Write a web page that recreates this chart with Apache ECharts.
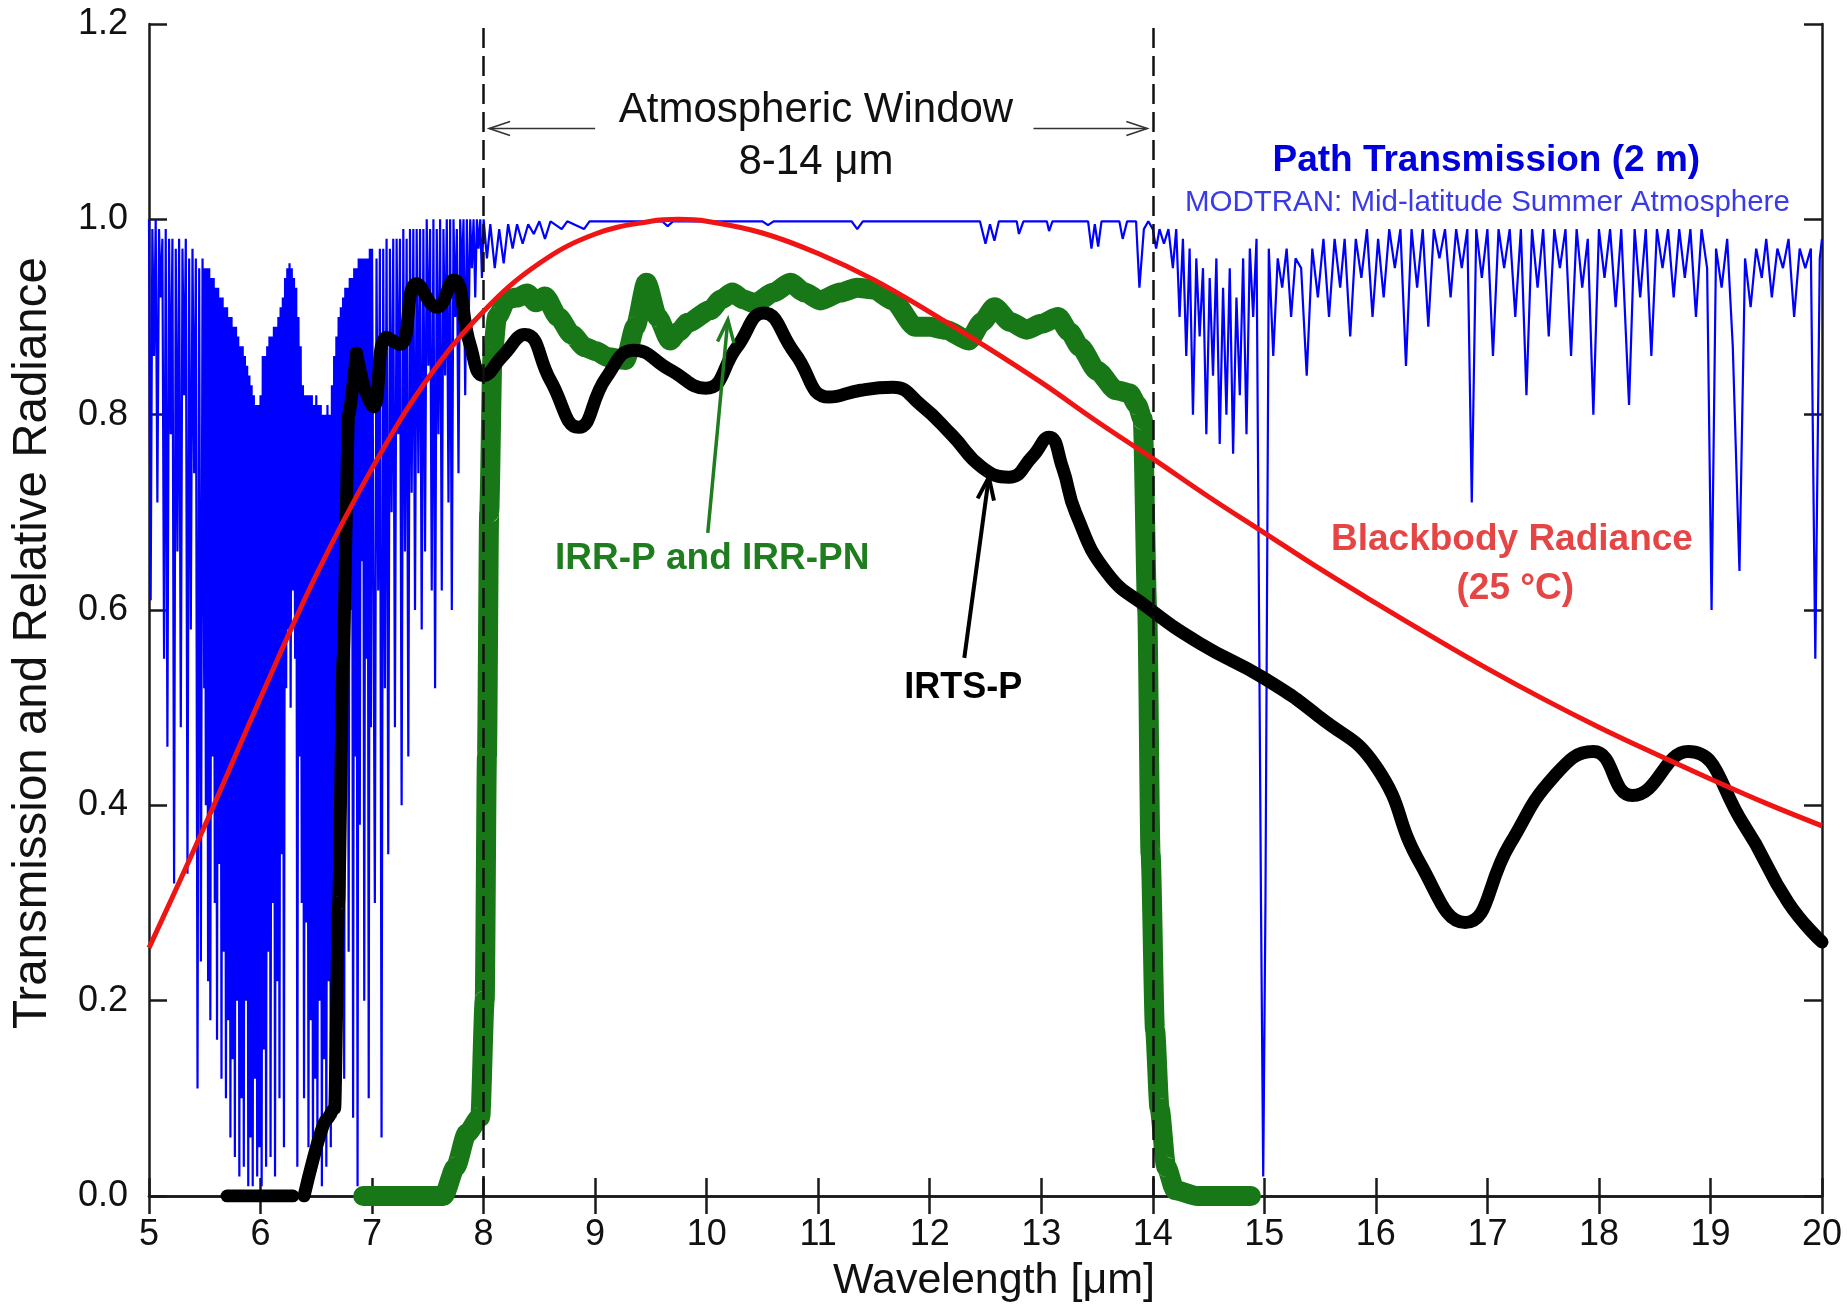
<!DOCTYPE html>
<html><head><meta charset="utf-8">
<script src="https://cdn.jsdelivr.net/npm/echarts/dist/echarts.min.js"></script>
<style>html,body{margin:0;padding:0;background:#fff}#c{width:1847px;height:1313px}</style>
</head><body><div id="c"></div>
<script>
// ---------------- data ----------------
const xTickValues = [5,6,7,8,9,10,11,12,13,14,15,16,17,18,19,20];
const yTickValues = [0.0,0.2,0.4,0.6,0.8,1.0,1.2];
const windowEdges = [8, 14];

const blackbodyRadiance = [
 [5.0,0.254],[5.5,0.379],[6.0,0.510],[6.5,0.636],[7.0,0.745],[7.5,0.837],[8.0,0.906],[8.5,0.955],
 [9.0,0.985],[9.5,0.998],[9.75,1.0],[10.0,0.998],[10.5,0.986],[11.0,0.965],[11.5,0.938],[12.0,0.905],
 [12.5,0.870],[13.0,0.833],[13.5,0.793],[14.0,0.755],[14.5,0.716],[15.0,0.679],[15.5,0.642],[16.0,0.607],
 [16.5,0.573],[17.0,0.540],[17.5,0.509],[18.0,0.480],[18.5,0.453],[19.0,0.427],[19.5,0.402],[20.0,0.379]
];

const irtsFlat = [[5.70,0.0],[6.0,0.0],[6.29,0.0]];
const irtsRise = [[6.39,0.0],[6.59,0.078],[6.665,0.09],[6.70,0.30],[6.74,0.55],[6.79,0.80],[6.86,0.863]];
const irtsMain = [
 [6.86,0.863],[7.01,0.808],[7.13,0.879],[7.25,0.872],[7.40,0.934],[7.58,0.910],[7.73,0.938],[7.88,0.871],
 [8.0,0.840],[8.17,0.860],[8.37,0.882],[8.60,0.835],[8.85,0.787],[9.10,0.838],[9.35,0.866],[9.67,0.846],
 [9.99,0.827],[10.27,0.869],[10.51,0.904],[10.79,0.863],[11.10,0.818],[11.38,0.825],[11.67,0.828],[11.92,0.810],
 [12.20,0.779],[12.47,0.746],[12.71,0.736],[12.92,0.757],[13.07,0.777],[13.19,0.746],[13.31,0.699],[13.59,0.638],
 [13.95,0.603],[14.42,0.566],[15.0,0.530],[15.5,0.490],[16.0,0.440],[16.4,0.340],[16.8,0.280],[17.2,0.360],
 [17.6,0.430],[17.95,0.455],[18.3,0.410],[18.8,0.455],[19.3,0.380],[19.7,0.300],[20.0,0.260]
];

const irrP = [
 [6.92,0.0],[7.3,0.0],[7.64,0.0],[7.75,0.03],[7.85,0.064],[7.97,0.081],[8.01,0.2],[8.03,0.45],
 [8.05,0.70],[8.08,0.86],[8.12,0.90],[8.21,0.918],[8.30,0.92],[8.39,0.924],[8.47,0.915],[8.55,0.921],
 [8.67,0.90],[8.79,0.882],[8.91,0.869],[9.01,0.865],[9.11,0.859],[9.27,0.856],[9.36,0.89],[9.46,0.935],
 [9.56,0.90],[9.67,0.876],[9.75,0.885],[9.83,0.894],[10.03,0.907],[10.13,0.918],[10.23,0.925],[10.33,0.918],
 [10.43,0.914],[10.6,0.925],[10.75,0.935],[10.88,0.925],[11.02,0.917],[11.2,0.925],[11.35,0.93],[11.5,0.928],
 [11.67,0.917],[11.87,0.89],[12.0,0.89],[12.14,0.887],[12.35,0.876],[12.47,0.895],[12.58,0.91],[12.72,0.895],
 [12.87,0.887],[13.0,0.893],[13.15,0.90],[13.25,0.885],[13.35,0.869],[13.5,0.845],[13.67,0.825],[13.79,0.822],
 [13.86,0.81],[13.91,0.795],[13.95,0.60],[13.98,0.35],[14.02,0.17],[14.06,0.09],[14.12,0.03],[14.2,0.006],
 [14.4,0.0],[14.88,0.0]
];

const pathTransmission = [
 [5.000,1.0],[5.015,0.61],[5.030,0.99],[5.045,0.86],[5.060,1.0],[5.075,0.71],[5.090,0.99],[5.105,0.92],[5.120,0.98],[5.135,0.55],
 [5.150,0.99],[5.165,0.46],[5.180,0.98],[5.195,0.78],[5.210,0.98],[5.225,0.32],[5.240,0.97],[5.255,0.66],[5.270,0.98],[5.285,0.48],
 [5.300,0.97],[5.315,0.82],[5.330,0.98],[5.345,0.33],[5.360,0.96],[5.375,0.58],[5.390,0.97],[5.405,0.74],[5.420,0.96],[5.435,0.11],
 [5.450,0.95],[5.465,0.24],[5.480,0.96],[5.495,0.52],
 [5.50,0.95],[5.51,0.40],[5.52,0.95],[5.53,0.22],[5.54,0.95],[5.55,0.18],[5.56,0.94],[5.57,0.45],[5.58,0.94],[5.59,0.30],
 [5.60,0.93],[5.61,0.16],[5.62,0.93],[5.63,0.34],[5.64,0.92],[5.65,0.12],[5.66,0.92],[5.67,0.25],[5.68,0.91],[5.69,0.10],
 [5.70,0.91],[5.71,0.18],[5.72,0.90],[5.73,0.06],[5.74,0.90],[5.75,0.14],[5.76,0.89],[5.77,0.04],[5.78,0.89],[5.79,0.20],
 [5.80,0.88],[5.81,0.02],[5.82,0.87],[5.83,0.10],[5.84,0.87],[5.85,0.03],[5.86,0.86],[5.87,0.20],[5.88,0.85],[5.89,0.01],
 [5.90,0.84],[5.91,0.06],[5.92,0.83],[5.93,0.01],[5.94,0.82],[5.95,0.12],[5.96,0.81],[5.97,0.02],[5.98,0.81],[5.99,0.05],
 [6.00,0.82],[6.01,0.01],[6.02,0.86],[6.03,0.15],[6.04,0.86],[6.05,0.03],[6.06,0.87],[6.07,0.25],[6.08,0.88],[6.09,0.04],
 [6.10,0.88],[6.11,0.30],[6.12,0.89],[6.13,0.02],[6.14,0.89],[6.15,0.22],[6.16,0.90],[6.17,0.10],[6.18,0.91],[6.19,0.35],
 [6.20,0.92],[6.21,0.05],[6.22,0.94],[6.23,0.52],[6.24,0.95],[6.25,0.58],[6.26,0.955],[6.27,0.50],[6.28,0.95],[6.29,0.62],
 [6.30,0.94],[6.31,0.55],[6.32,0.93],[6.33,0.03],[6.34,0.90],[6.35,0.45],[6.36,0.87],[6.37,0.30],[6.38,0.83],[6.39,0.10],
 [6.40,0.82],[6.41,0.28],[6.42,0.82],[6.43,0.05],[6.44,0.82],[6.45,0.18],[6.46,0.82],[6.47,0.02],[6.48,0.81],[6.49,0.12],
 [6.50,0.82],[6.51,0.04],[6.52,0.81],[6.53,0.20],[6.54,0.81],[6.55,0.01],[6.56,0.80],[6.57,0.14],[6.58,0.80],[6.59,0.03],
 [6.60,0.81],[6.61,0.22],[6.62,0.80],[6.63,0.05],[6.64,0.83],[6.65,0.30],[6.66,0.86],[6.67,0.08],[6.68,0.88],[6.69,0.40],
 [6.70,0.90],[6.71,0.15],[6.72,0.91],[6.73,0.48],[6.74,0.92],[6.75,0.12],[6.76,0.93],[6.77,0.55],[6.78,0.93],[6.79,0.25],
 [6.80,0.94],[6.81,0.60],[6.82,0.94],[6.83,0.08],[6.84,0.95],[6.85,0.45],[6.86,0.95],[6.87,0.01],[6.88,0.96],[6.89,0.38],
 [6.90,0.96],[6.91,0.65],[6.92,0.96],[6.93,0.20],[6.94,0.96],[6.95,0.55],[6.96,0.96],[6.97,0.10],[6.98,0.97],[6.99,0.48],
 [7.00,0.97],[7.025,0.30],[7.040,0.96],[7.055,0.62],[7.070,0.97],[7.085,0.06],
 [7.100,0.97],[7.115,0.52],[7.130,0.98],[7.145,0.35],[7.160,0.97],[7.175,0.70],[7.190,0.98],[7.205,0.48],[7.220,0.98],[7.235,0.78],
 [7.250,0.98],[7.265,0.40],[7.280,0.99],[7.295,0.66],[7.310,0.98],[7.325,0.45],[7.340,0.99],[7.355,0.72],[7.370,0.99],[7.385,0.60],
 [7.400,0.99],[7.415,0.74],[7.430,0.99],[7.445,0.58],[7.460,0.99],[7.475,0.66],[7.490,1.0],[7.505,0.85],[7.520,0.99],[7.535,0.62],
 [7.550,1.0],[7.565,0.52],[7.580,0.99],[7.595,0.78],[7.610,1.0],[7.625,0.62],[7.640,0.99],[7.655,0.84],[7.670,1.0],[7.685,0.71],
 [7.700,1.0],[7.715,0.60],[7.730,1.0],[7.745,0.90],[7.760,0.99],[7.775,0.74],[7.790,1.0],[7.805,0.94],[7.820,1.0],[7.835,0.82],
 [7.850,1.0],[7.865,0.88],[7.880,1.0],[7.895,0.95],[7.910,1.0],[7.925,0.92],[7.940,1.0],[7.955,0.97],[7.970,1.0],[7.985,0.94],
 [8.00,1.0],[8.03,0.96],[8.06,0.995],[8.10,0.95],[8.14,0.99],[8.18,0.955],[8.22,0.995],[8.26,0.97],[8.30,0.995],[8.35,0.975],
 [8.40,0.995],[8.45,0.985],[8.50,0.998],[8.55,0.98],[8.60,0.998],[8.70,0.99],[8.75,0.998],[8.90,0.99],[8.95,0.998],[9.60,0.998],
 [9.65,0.993],[9.70,0.998],[10.50,0.998],[10.55,0.994],[10.60,0.998],[11.30,0.998],[11.35,0.99],[11.40,0.998],[12.45,0.998],[12.50,0.975],
 [12.54,0.995],[12.58,0.978],[12.62,0.998],[12.78,0.998],[12.80,0.985],[12.84,0.998],[13.05,0.998],[13.07,0.988],[13.10,0.998],[13.42,0.998],
 [13.45,0.97],[13.48,0.995],[13.51,0.972],[13.54,0.998],[13.70,0.998],[13.73,0.98],[13.77,0.998],[13.85,0.998],[13.88,0.93],[13.92,0.99],
 [13.96,0.998],[14.00,0.99],[14.03,0.97],[14.06,0.99],[14.10,0.975],[14.14,0.99],[14.18,0.95],[14.21,0.99],[14.24,0.90],[14.27,0.98],
 [14.30,0.86],[14.33,0.97],[14.36,0.80],[14.39,0.96],[14.42,0.88],[14.45,0.95],[14.48,0.78],[14.51,0.94],[14.54,0.84],[14.57,0.96],
 [14.60,0.77],[14.63,0.93],[14.66,0.80],[14.69,0.95],[14.72,0.76],[14.75,0.92],[14.78,0.82],[14.81,0.96],[14.84,0.78],[14.87,0.97],
 [14.90,0.90],[14.93,0.98],[14.97,0.30],[14.99,0.02],[15.01,0.30],[15.04,0.97],[15.08,0.86],[15.12,0.96],[15.16,0.93],[15.20,0.97],
 [15.24,0.90],[15.28,0.96],[15.33,0.95],[15.38,0.84],[15.43,0.97],[15.48,0.92],[15.53,0.98],[15.58,0.90],[15.63,0.98],[15.68,0.93],
 [15.72,0.98],[15.77,0.88],[15.82,0.98],[15.87,0.94],[15.92,0.99],[15.97,0.90],[16.02,0.98],[16.07,0.92],[16.12,0.99],[16.17,0.95],
 [16.22,0.99],[16.27,0.85],[16.32,0.99],[16.37,0.93],[16.42,0.99],[16.47,0.89],[16.52,0.99],[16.57,0.96],[16.62,0.99],[16.67,0.92],
 [16.72,0.99],[16.77,0.95],[16.82,0.99],[16.86,0.71],[16.90,0.99],[16.95,0.94],[17.00,0.99],[17.05,0.86],[17.10,0.99],[17.15,0.95],
 [17.20,0.99],[17.25,0.90],[17.30,0.99],[17.35,0.82],[17.40,0.99],[17.45,0.93],[17.50,0.99],[17.55,0.88],[17.60,0.99],[17.65,0.95],
 [17.70,0.99],[17.75,0.86],[17.80,0.99],[17.85,0.93],[17.90,0.98],[17.95,0.80],[18.00,0.99],[18.05,0.94],[18.10,0.99],[18.15,0.91],
 [18.20,0.99],[18.27,0.81],[18.32,0.99],[18.37,0.92],[18.42,0.99],[18.47,0.86],[18.52,0.99],[18.57,0.95],[18.62,0.99],[18.67,0.92],
 [18.72,0.99],[18.77,0.94],[18.82,0.99],[18.87,0.90],[18.92,0.99],[18.97,0.95],[19.01,0.60],[19.05,0.97],[19.10,0.93],[19.15,0.98],
 [19.20,0.87],[19.26,0.64],[19.31,0.96],[19.36,0.91],[19.41,0.97],[19.46,0.94],[19.50,0.98],[19.55,0.92],[19.60,0.97],[19.65,0.95],
 [19.70,0.98],[19.75,0.90],[19.80,0.97],[19.85,0.95],[19.90,0.97],[19.94,0.55],[19.98,0.96],[20.00,0.98]
];

// annotation anchors in data coordinates
const labelAtmWindow = {text:'Atmospheric Window', at:[10.98,1.112]};
const labelAtmRange  = {text:'8-14 \u03bcm', at:[10.98,1.058]};
const windowArrows   = [[[9.00,1.093],[8.05,1.093]], [[12.93,1.093],[13.95,1.093]]];
const labelPath      = {text:'Path Transmission (2 m)', at:[16.99,1.060]};
const labelModtran   = {text:'MODTRAN: Mid-latitude Summer Atmosphere', at:[17.0,1.017]};
const labelBB1       = {text:'Blackbody Radiance', at:[17.22,0.672]};
const labelBB2       = {text:'(25 \u00b0C)', at:[17.25,0.622]};
const labelIRR       = {text:'IRR-P and IRR-PN', at:[10.05,0.652]};
const arrowIRR       = [[10.01,0.679],[10.19,0.897]];
const labelIRTS      = {text:'IRTS-P', at:[12.30,0.520]};
const arrowIRTS      = [[12.31,0.551],[12.53,0.736]];

// ---------------- chart ----------------
const FONT = '"Liberation Sans", Arial, Helvetica, sans-serif';
const chart = echarts.init(document.getElementById('c'), null, {renderer:'canvas'});
const axisCommon = {
  type:'value', axisLine:{show:true, lineStyle:{color:'#1a1a1a', width:2.5}},
  axisTick:{show:true, inside:true, length:18, lineStyle:{color:'#1a1a1a', width:2.5}},
  splitLine:{show:false}
};
const blackStyle = {color:'#000', width:13, cap:'round', join:'round'};
const option = {
  animation:false,
  backgroundColor:'#ffffff',
  grid:{left:149, right:25, top:24, bottom:117, containLabel:false},
  xAxis:[
    Object.assign({}, axisCommon, {position:'bottom', min:5, max:20, interval:1,
      axisLabel:{show:true, fontSize:36, color:'#111', fontFamily:FONT, margin:21,
        formatter:v=> xTickValues.includes(v) ? String(v) : ''}}),
    Object.assign({}, axisCommon, {position:'top', min:5, max:20, interval:1, axisLabel:{show:false}})
  ],
  yAxis:[
    Object.assign({}, axisCommon, {position:'left', min:0, max:1.2, interval:0.2,
      axisLabel:{show:true, fontSize:36, color:'#111', fontFamily:FONT, margin:21,
        formatter:v=> v.toFixed(1)}}),
    Object.assign({}, axisCommon, {position:'right', min:0, max:1.2, interval:0.2, axisLabel:{show:false}})
  ],
  series:[
    {name:'Path Transmission', type:'line', data:pathTransmission, showSymbol:false, symbol:'none',
     lineStyle:{color:'#0000ff', width:2.2}, sampling:null, z:2},
    {name:'IRR-P', type:'line', data:irrP, showSymbol:false, symbol:'none', smooth:0.25, smoothMonotone:'x',
     lineStyle:{color:'#187818', width:20, cap:'round', join:'round'}, z:3},
    {name:'IRTS-P flat', type:'line', data:irtsFlat, showSymbol:false, symbol:'none', lineStyle:blackStyle, z:4},
    {name:'IRTS-P rise', type:'line', data:irtsRise, showSymbol:false, symbol:'none', smooth:0.2, smoothMonotone:'x',
     lineStyle:blackStyle, z:4},
    {name:'IRTS-P', type:'line', data:irtsMain, showSymbol:false, symbol:'none', smooth:0.5,
     lineStyle:blackStyle, z:4},
    {name:'Blackbody', type:'line', data:blackbodyRadiance, showSymbol:false, symbol:'none', smooth:0.4,
     lineStyle:{color:'#f01515', width:5}, z:5,
     markLine:{silent:true, symbol:'none', label:{show:false}, animation:false,
       lineStyle:{color:'#111', width:2.5, type:[20,8]},
       data: windowEdges.map(v=>({xAxis:v}))}}
  ]
};
chart.setOption(option);

function px(p){ return chart.convertToPixel({gridIndex:0}, p); }
function textEl(lbl, opts){
  const p = px(lbl.at);
  return {type:'text', x:p[0], y:p[1], z:20, style:Object.assign({
    text:lbl.text, fontFamily:FONT, align:'center', verticalAlign:'middle',
    textAlign:'center', textVerticalAlign:'middle'}, opts)};
}
function arrowEls(from, to, color, width, headLen, headAng){
  const a = px(from), b = px(to);
  const ang = Math.atan2(b[1]-a[1], b[0]-a[0]);
  const h1 = [b[0]-headLen*Math.cos(ang-headAng), b[1]-headLen*Math.sin(ang-headAng)];
  const h2 = [b[0]-headLen*Math.cos(ang+headAng), b[1]-headLen*Math.sin(ang+headAng)];
  return [
    {type:'line', z:20, shape:{x1:a[0],y1:a[1],x2:b[0],y2:b[1]}, style:{stroke:color, lineWidth:width}},
    {type:'polyline', z:20, shape:{points:[h1,b,h2]}, style:{stroke:color, lineWidth:width, fill:null, lineJoin:'miter'}}
  ];
}
const g = [];
g.push(textEl(labelAtmWindow, {fontSize:42, fill:'#111'}));
g.push(textEl(labelAtmRange, {fontSize:42, fill:'#111'}));
windowArrows.forEach(ar => g.push(...arrowEls(ar[0], ar[1], '#333', 1.6, 22, 0.32)));
g.push(textEl(labelPath, {fontSize:37, fontWeight:'bold', fill:'#0000dd'}));
g.push(textEl(labelModtran, {fontSize:29.5, fill:'#3a3ae8'}));
g.push(textEl(labelBB1, {fontSize:37, fontWeight:'bold', fill:'#e54545'}));
g.push(textEl(labelBB2, {fontSize:37, fontWeight:'bold', fill:'#e54545'}));
g.push(textEl(labelIRR, {fontSize:37, fontWeight:'bold', fill:'#1f7d1f'}));
g.push(...arrowEls(arrowIRR[0], arrowIRR[1], '#1f7d1f', 3.5, 24, 0.35));
g.push(textEl(labelIRTS, {fontSize:36, fontWeight:'bold', fill:'#000'}));
g.push(...arrowEls(arrowIRTS[0], arrowIRTS[1], '#000', 4, 24, 0.35));
// axis titles
g.push({type:'text', x:994, y:1281, z:20, style:{text:'Wavelength [\u03bcm]', fontFamily:FONT, fontSize:43, fill:'#111',
  align:'center', verticalAlign:'middle', textAlign:'center', textVerticalAlign:'middle'}});
g.push({type:'text', x:33, y:643, rotation:Math.PI/2, z:20, style:{text:'Transmission and Relative Radiance', fontFamily:FONT,
  fontSize:47.5, fill:'#111', align:'center', verticalAlign:'middle', textAlign:'center', textVerticalAlign:'middle'}});
chart.setOption({graphic:g});
</script>
</body></html>
